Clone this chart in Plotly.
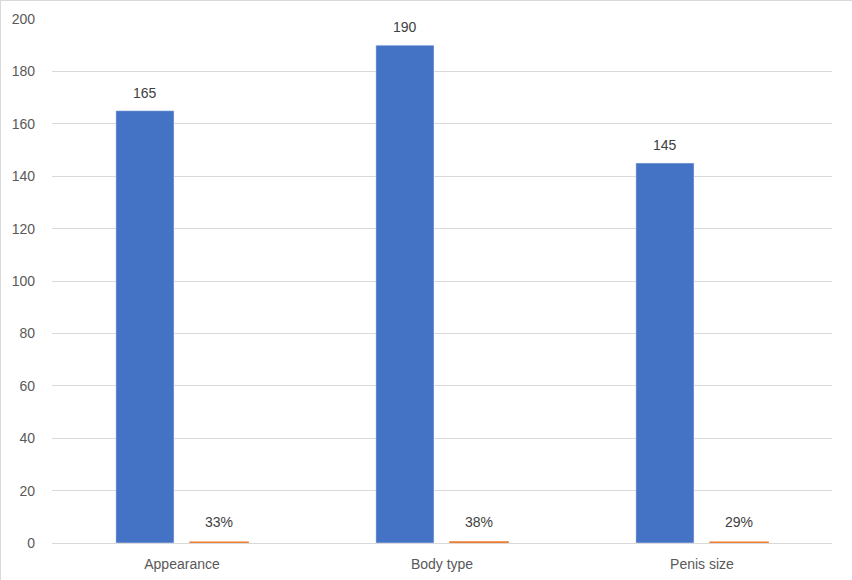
import plotly.graph_objects as go

categories = ["Appearance", "Body type", "Penis size"]
counts = [165, 190, 145]
shares = [0.33, 0.38, 0.29]
y_ticks = [0, 20, 40, 60, 80, 100, 120, 140, 160, 180, 200]

FONT = "Liberation Sans, Arial, sans-serif"
FS = 14
BLUE = "#4472C4"
ORANGE = "#ED7D31"

fig = go.Figure()
fig.add_trace(go.Bar(x=categories, y=counts, marker_color=BLUE, name="Count"))
fig.add_trace(go.Bar(x=categories, y=shares, marker=dict(color=ORANGE, line=dict(color=ORANGE, width=1.5)),
                     name="Share"))

annotations = []
for c, v in zip(categories, counts):
    annotations.append(dict(x=c, y=v, xref="x", yref="y", text=str(v), showarrow=False,
                            xshift=-37, yshift=18, font=dict(family=FONT, size=FS, color="#404040")))
for c, v in zip(categories, shares):
    annotations.append(dict(x=c, y=v, xref="x", yref="y", text=f"{round(v*100)}%", showarrow=False,
                            xshift=37, yshift=20, font=dict(family=FONT, size=FS, color="#404040")))

W, H = 852, 580
L, R, T, B = 52, 20, 19, 37
pw, ph = W - L - R, H - T - B

fig.update_layout(
    width=W, height=H,
    margin=dict(l=L, r=R, t=T, b=B, autoexpand=False),
    paper_bgcolor="white", plot_bgcolor="white",
    barmode="group", bargap=0.43, bargroupgap=0.216,
    showlegend=False,
    font=dict(family=FONT, size=FS, color="#595959"),
    annotations=annotations,
    shapes=[
        dict(type="line", xref="paper", yref="paper", x0=-L/pw, x1=1+R/pw, y0=1+T/ph, y1=1+T/ph,
             line=dict(color="#D9D9D9", width=2)),
        dict(type="line", xref="paper", yref="paper", x0=-L/pw, x1=-L/pw, y0=-B/ph, y1=1+T/ph,
             line=dict(color="#D9D9D9", width=2)),
    ],
    xaxis=dict(showgrid=False, showline=True, linecolor="#D9D9D9", linewidth=1, automargin=False,
               ticks="", tickfont=dict(family=FONT, size=FS, color="#595959"), ticklabelstandoff=8),
    yaxis=dict(range=[0, 200], tickvals=y_ticks, showgrid=True, gridcolor="#D9D9D9", gridwidth=1,
               zeroline=False, showline=False, ticks="", automargin=False,
               tickfont=dict(family=FONT, size=FS, color="#595959"), ticklabelstandoff=16),
)

fig.write_html("out.html")
